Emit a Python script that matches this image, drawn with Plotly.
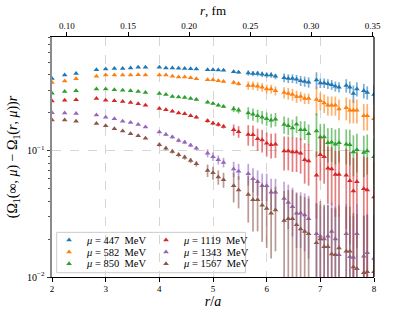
import math
import plotly.graph_objects as go

# ---------------- data ----------------
r_over_a = [2.000, 2.236, 2.449, 2.828, 3.000, 3.162, 3.317, 3.464, 3.606, 3.742,
            4.000, 4.123, 4.243, 4.359, 4.472, 4.583, 4.690, 4.899, 5.000, 5.099,
            5.196, 5.385, 5.477, 5.657, 5.745, 5.831, 5.916, 6.000, 6.083, 6.164,
            6.325, 6.403, 6.481, 6.557, 6.633, 6.708, 6.782, 6.928, 7.000, 7.071,
            7.141, 7.211, 7.280, 7.348, 7.483, 7.550, 7.616, 7.681, 7.810, 7.874,
            8.000]

mu_values_mev = [447, 582, 850, 1119, 1343, 1567]

vals_447 = [0.375, 0.40, 0.41, 0.44, 0.445, 0.45, 0.45, 0.455, 0.46, 0.46,
            0.46, 0.455, 0.455, 0.452, 0.45, 0.448, 0.445, 0.44, 0.44, 0.438,
            0.435, 0.425, 0.42, 0.415, 0.41, 0.41, 0.405, 0.40, 0.40, 0.39,
            0.38, 0.375, 0.375, 0.37, 0.36, 0.355, 0.35, 0.365, 0.345, 0.345,
            0.34, 0.335, 0.325, 0.32, 0.33, 0.32, 0.285, 0.31, 0.30, 0.29,
            0.28]
err_447 = [0.003, 0.003, 0.003, 0.003, 0.003, 0.003, 0.003, 0.003, 0.003, 0.003,
           0.003, 0.004, 0.004, 0.004, 0.004, 0.004, 0.004, 0.006, 0.006, 0.006,
           0.006, 0.010, 0.010, 0.020, 0.020, 0.020, 0.020, 0.020, 0.020, 0.020,
           0.030, 0.030, 0.030, 0.030, 0.033, 0.033, 0.033, 0.055, 0.030, 0.030,
           0.030, 0.030, 0.030, 0.030, 0.040, 0.035, 0.045, 0.040, 0.040, 0.035,
           0.050]

vals_582 = [0.348, 0.359, 0.373, 0.391, 0.40, 0.40, 0.40, 0.40, 0.402, 0.40,
            0.40, 0.40, 0.39, 0.386, 0.385, 0.38, 0.373, 0.367, 0.367, 0.36,
            0.355, 0.348, 0.34, 0.33, 0.33, 0.325, 0.32, 0.31, 0.31, 0.30,
            0.29, 0.285, 0.28, 0.27, 0.27, 0.26, 0.26, 0.255, 0.25, 0.24,
            0.23, 0.23, 0.23, 0.215, 0.22, 0.21, 0.21, 0.21, 0.19, 0.19,
            0.18]
err_582 = [0.002, 0.002, 0.002, 0.002, 0.002, 0.002, 0.002, 0.002, 0.002, 0.002,
           0.002, 0.004, 0.004, 0.004, 0.004, 0.004, 0.004, 0.007, 0.007, 0.007,
           0.007, 0.012, 0.012, 0.025, 0.025, 0.025, 0.025, 0.025, 0.025, 0.025,
           0.030, 0.030, 0.030, 0.030, 0.025, 0.025, 0.025, 0.065, 0.040, 0.040,
           0.040, 0.040, 0.040, 0.040, 0.045, 0.045, 0.045, 0.045, 0.045, 0.045,
           0.045]

vals_850 = [0.287, 0.296, 0.30, 0.31, 0.31, 0.305, 0.303, 0.30, 0.296, 0.29,
            0.285, 0.28, 0.27, 0.267, 0.265, 0.26, 0.255, 0.243, 0.238, 0.23,
            0.225, 0.215, 0.21, 0.20, 0.195, 0.19, 0.185, 0.18, 0.175, 0.178,
            0.162, 0.158, 0.152, 0.163, 0.147, 0.147, 0.137, 0.144, 0.129, 0.129,
            0.116, 0.117, 0.113, 0.116, 0.113, 0.112, 0.098, 0.102, 0.097, 0.10,
            0.09]
err_850 = [0.002, 0.002, 0.002, 0.002, 0.002, 0.002, 0.002, 0.002, 0.002, 0.002,
           0.002, 0.004, 0.004, 0.004, 0.004, 0.004, 0.004, 0.006, 0.006, 0.006,
           0.006, 0.012, 0.012, 0.022, 0.022, 0.022, 0.022, 0.022, 0.022, 0.022,
           0.025, 0.025, 0.025, 0.025, 0.025, 0.025, 0.025, 0.055, 0.035, 0.035,
           0.035, 0.035, 0.035, 0.035, 0.035, 0.035, 0.035, 0.035, 0.035, 0.035,
           0.035]

vals_1119 = [0.249, 0.252, 0.254, 0.26, 0.252, 0.25, 0.246, 0.242, 0.236, 0.23,
             0.217, 0.212, 0.206, 0.20, 0.197, 0.19, 0.185, 0.173, 0.166, 0.162,
             0.156, 0.147, 0.142, 0.135, 0.134, 0.125, 0.122, 0.115, 0.112, 0.113,
             0.10, 0.10, 0.098, 0.098, 0.096, 0.085, 0.083, 0.064, 0.093, 0.09,
             0.073, 0.072, 0.065, 0.065, 0.064, 0.058, 0.048, 0.057, 0.05, 0.049,
             0.043]
err_1119 = [0.002, 0.002, 0.002, 0.002, 0.002, 0.002, 0.002, 0.002, 0.002, 0.002,
            0.002, 0.004, 0.004, 0.004, 0.004, 0.004, 0.004, 0.006, 0.006, 0.006,
            0.006, 0.015, 0.015, 0.025, 0.025, 0.025, 0.025, 0.025, 0.025, 0.025,
            0.030, 0.030, 0.030, 0.030, 0.030, 0.030, 0.030, 0.035, 0.035, 0.035,
            0.035, 0.035, 0.035, 0.035, 0.040, 0.040, 0.040, 0.040, 0.040, 0.040,
            0.040]

vals_1343 = [0.201, 0.20, 0.198, 0.193, 0.185, 0.18, 0.172, 0.168, 0.162, 0.155,
             0.141, 0.135, 0.129, 0.121, 0.117, 0.111, 0.105, 0.096, 0.09, 0.085,
             0.081, 0.072, 0.069, 0.066, 0.060, 0.057, 0.053, 0.053, 0.047, 0.047,
             0.042, 0.039, 0.036, 0.032, 0.032, 0.031, 0.029, 0.022, 0.021, 0.020,
             0.021, 0.023, 0.020, 0.015, 0.022, 0.0145, 0.0143, 0.022, 0.0146, 0.0156,
             0.014]
err_1343 = [0.002, 0.002, 0.002, 0.002, 0.002, 0.002, 0.002, 0.002, 0.002, 0.002,
            0.002, 0.004, 0.004, 0.004, 0.004, 0.004, 0.004, 0.007, 0.007, 0.007,
            0.007, 0.010, 0.010, 0.013, 0.013, 0.013, 0.013, 0.013, 0.013, 0.013,
            0.015, 0.015, 0.015, 0.015, 0.015, 0.015, 0.015, 0.016, 0.016, 0.016,
            0.016, 0.016, 0.016, 0.016, 0.016, 0.016, 0.016, 0.016, 0.016, 0.016,
            0.016]

vals_1567 = [0.176, 0.176, 0.172, 0.165, 0.158, 0.15, 0.144, 0.137, 0.132, 0.126,
             0.112, 0.105, 0.099, 0.093, 0.089, 0.084, 0.079, 0.070, 0.067, 0.062,
             0.059, 0.053, 0.049, 0.045, 0.041, 0.041, 0.037, 0.035, 0.032, 0.034,
             0.028, 0.029, 0.029, 0.026, 0.024, 0.023, 0.022, 0.0187, 0.020, 0.0174,
             0.0174, 0.0152, 0.015, 0.017, 0.016, 0.016, 0.012, 0.0116, 0.0108, 0.011,
             0.011]
err_1567 = [0.002, 0.002, 0.002, 0.002, 0.002, 0.002, 0.002, 0.002, 0.002, 0.002,
            0.004, 0.004, 0.004, 0.004, 0.004, 0.004, 0.004, 0.008, 0.008, 0.008,
            0.008, 0.014, 0.014, 0.018, 0.018, 0.018, 0.018, 0.018, 0.018, 0.018,
            0.020, 0.020, 0.020, 0.020, 0.020, 0.020, 0.020, 0.020, 0.020, 0.020,
            0.020, 0.020, 0.020, 0.020, 0.020, 0.020, 0.020, 0.020, 0.020, 0.020,
            0.020]

lattice_spacing_fm = 0.0439
fm_ticks = [0.10, 0.15, 0.20, 0.25, 0.30, 0.35]
x_ticks = [2, 3, 4, 5, 6, 7, 8]
y_major = [0.01, 0.1]
y_major_text = ["10<sup>\u22122</sup>", "10<sup>\u22121</sup>"]
y_minor = [0.02, 0.03, 0.04, 0.05, 0.06, 0.07, 0.08, 0.09,
           0.2, 0.3, 0.4, 0.5, 0.6, 0.7, 0.8]
y_limits = [0.01, 0.8]
x_limits = [2, 8]

series_vals = [vals_447, vals_582, vals_850, vals_1119, vals_1343, vals_1567]
series_errs = [err_447, err_582, err_850, err_1119, err_1343, err_1567]
colors = ["#1f77b4", "#ff7f0e", "#2ca02c", "#d62728", "#9467bd", "#8c564b"]

FONT = "Liberation Serif"


def rgba(hex_color, alpha):
    h = hex_color.lstrip("#")
    return "rgba(%d,%d,%d,%.2f)" % (int(h[0:2], 16), int(h[2:4], 16), int(h[4:6], 16), alpha)


fig = go.Figure()
for vals, errs, col, mu in zip(series_vals, series_errs, colors, mu_values_mev):
    fig.add_trace(go.Scatter(
        x=r_over_a, y=vals, mode="markers", name="\u03bc = %d MeV" % mu,
        marker=dict(symbol="triangle-up", size=5, color=col, line=dict(width=0)),
        error_y=dict(type="data", array=errs, color=rgba(col, 0.6), thickness=1.7, width=0),
        showlegend=False, cliponaxis=True,
    ))

# invisible trace to activate the top (fm) axis
fig.add_trace(go.Scatter(
    x=[x_limits[0] * lattice_spacing_fm, x_limits[1] * lattice_spacing_fm],
    y=[0.1, 0.1], xaxis="x2", yaxis="y", mode="markers",
    marker=dict(opacity=0), hoverinfo="skip", showlegend=False,
))

# legend (two columns) drawn on an auxiliary unit axis
leg_col_marker = [0.053, 0.354]
leg_col_text = [0.098, 0.402]
leg_rows = [0.154, 0.104, 0.055]
leg_x, leg_y, leg_c = [], [], []
for i, (col, mu) in enumerate(zip(colors, mu_values_mev)):
    c, r = divmod(i, 3)
    leg_x.append(leg_col_marker[c])
    leg_y.append(leg_rows[r])
    leg_c.append(col)
    fig.add_annotation(
        x=leg_col_text[c], y=leg_rows[r], xref="paper", yref="paper",
        xanchor="left", yanchor="middle", showarrow=False,
        text="<i>\u03bc</i>\u00a0=\u00a0%d\u00a0\u00a0MeV" % mu,
        font=dict(family=FONT, size=10.5, color="black"),
    )
fig.add_trace(go.Scatter(
    x=leg_x, y=leg_y, xaxis="x3", yaxis="y3", mode="markers",
    marker=dict(symbol="triangle-up", size=5, color=leg_c),
    hoverinfo="skip", showlegend=False,
))

fig.add_shape(type="rect", xref="paper", yref="paper", x0=0.0146, x1=0.601, y0=0.018, y1=0.186,
              fillcolor="rgba(255,255,255,0.85)", line=dict(color="#cccccc", width=1), layer="between")
# right spine
fig.add_shape(type="line", xref="paper", yref="paper", x0=1, x1=1, y0=0, y1=1,
              line=dict(color="black", width=1.2), layer="above")

fig.update_layout(
    width=416, height=312,
    margin=dict(l=52, r=42, t=37, b=35, autoexpand=False),
    paper_bgcolor="white", plot_bgcolor="white",
    font=dict(family=FONT, size=9, color="black"),
    showlegend=False,
    xaxis=dict(
        range=x_limits, tickvals=x_ticks, ticks="outside", ticklen=3.5, tickwidth=0.8,
        tickcolor="black", showline=True, linecolor="black", linewidth=1.2,
        showgrid=True, gridcolor="#d6d6d6", griddash="dash", gridwidth=1, zeroline=False,
        tickfont=dict(family=FONT, size=9), automargin=False,
        title=dict(text="<i>r</i>/<i>a</i>", font=dict(family=FONT, size=14), standoff=2),
    ),
    xaxis2=dict(
        overlaying="x", side="top", anchor="y",
        range=[x_limits[0] * lattice_spacing_fm, x_limits[1] * lattice_spacing_fm],
        tickvals=fm_ticks, ticktext=["%.2f" % v for v in fm_ticks],
        ticks="outside", ticklen=3.5, tickwidth=0.8, tickcolor="black",
        showline=True, linecolor="black", linewidth=1.2, showgrid=False, zeroline=False,
        tickfont=dict(family=FONT, size=9), automargin=False,
        title=dict(text="<i>r</i>, fm", font=dict(family=FONT, size=13), standoff=2),
    ),
    yaxis=dict(
        type="log", range=[math.log10(y_limits[0]), math.log10(y_limits[1])],
        tickvals=y_major, ticktext=y_major_text, ticks="outside", ticklen=3.5, tickwidth=0.8,
        tickcolor="#333333", showline=True, linecolor="#8a8a8a", linewidth=2,
        showgrid=True, gridcolor="#d6d6d6", griddash="dash", gridwidth=1, zeroline=False,
        tickfont=dict(family=FONT, size=10), automargin=False,
        minor=dict(tickvals=y_minor, ticks="outside", ticklen=2, tickwidth=0.6,
                   tickcolor="#555555", showgrid=False),
        title=dict(text="(\u03a9<sub>1</sub>(\u221e,\u00a0<i>\u03bc</i>)\u00a0\u2212\u00a0\u03a9<sub>1</sub>(<i>r</i>,\u00a0<i>\u03bc</i>))<i>r</i>",
                   font=dict(family=FONT, size=14), standoff=6),
    ),
    xaxis3=dict(overlaying="x", range=[0, 1], visible=False),
    yaxis3=dict(overlaying="y", range=[0, 1], visible=False),
)

fig.write_html("out.html", config={"displayModeBar": False},
               post_script="document.body.style.margin='0';")
